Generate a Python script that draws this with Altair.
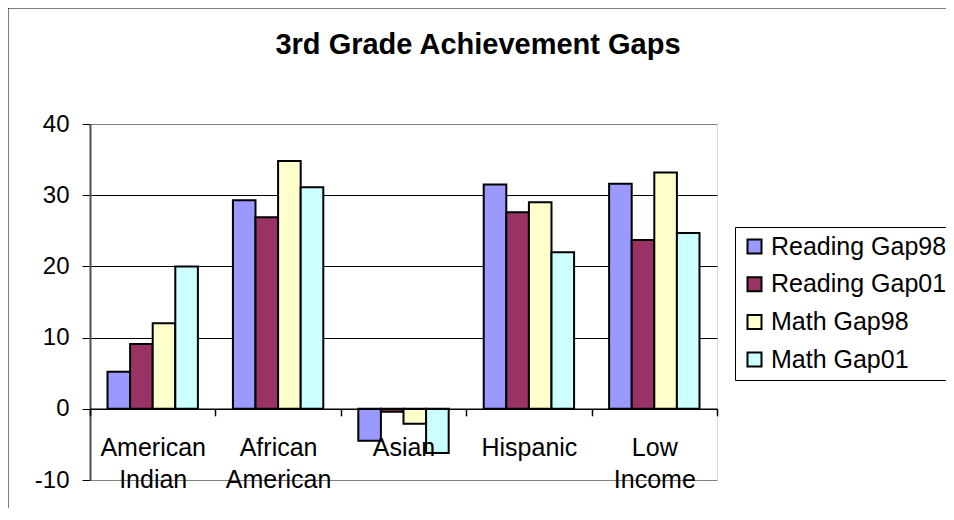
import altair as alt
import pandas as pd

categories = ["American Indian", "African American", "Asian", "Hispanic", "Low Income"]
series = ["Reading Gap98", "Reading Gap01", "Math Gap98", "Math Gap01"]
reading_gap98 = [5.2, 29.3, -4.5, 31.5, 31.6]
reading_gap01 = [9.1, 26.9, -0.4, 27.6, 23.7]
math_gap98 = [12.0, 34.8, -2.1, 29.0, 33.2]
math_gap01 = [20.0, 31.1, -6.2, 22.0, 24.7]
colors = ["#9999FF", "#993366", "#FFFFCC", "#CCFFFF"]
y_ticks = [-10, 0, 10, 20, 30, 40]

rows = []
for s, vals in zip(series, [reading_gap98, reading_gap01, math_gap98, math_gap01]):
    for c, v in zip(categories, vals):
        rows.append({"group": c, "series": s, "value": v})
df = pd.DataFrame(rows)

W, H = 627, 356
FONT = "Liberation Sans"

frame = alt.Chart(pd.DataFrame({"k": [0]})).mark_rect(
    fill="transparent", stroke="black", strokeWidth=1
).encode(
    x=alt.value(-82), x2=alt.value(W + 400),
    y=alt.value(-116), y2=alt.value(H + 200),
)

bars = alt.Chart(df).mark_bar(stroke="black", strokeWidth=2).encode(
    x=alt.X(
        "group:N", sort=categories,
        scale=alt.Scale(paddingInner=0, paddingOuter=0),
        axis=alt.Axis(
            title=None, offset=-H * 10 / 50, domainColor="black", domainWidth=1.5,
            tickColor="black", tickSize=7, tickWidth=1.5, tickBand="extent",
            labelExpr="split(datum.label, ' ')", labelFontSize=25, labelFont=FONT,
            labelColor="black", labelPadding=20, labelLineHeight=32, labelAngle=0,
            labelOverlap=False, labelLimit=300, zindex=1, grid=False,
        ),
    ),
    xOffset=alt.XOffset(
        "series:N", sort=series,
        scale=alt.Scale(paddingInner=0, paddingOuter=0.775),
    ),
    y=alt.Y(
        "value:Q",
        scale=alt.Scale(domain=[-10, 40], nice=False),
        axis=alt.Axis(
            values=y_ticks, title=None, labelExpr="'' + datum.value",
            labelFontSize=24, labelFont=FONT, labelColor="black", labelPadding=13,
            tickSize=8, tickColor="black", domainColor="#505050", domainWidth=2,
            gridColor=alt.condition("datum.value == 40 || datum.value == -10", alt.value("#808080"), alt.value("black")),
            gridWidth=1,
        ),
    ),
    color=alt.Color(
        "series:N", sort=series,
        scale=alt.Scale(domain=series, range=colors),
        legend=alt.Legend(
            title=None, orient="none", legendX=645, legendY=103,
            strokeColor="black", padding=7, fillColor="white",
            symbolType="square", symbolSize=196, symbolStrokeColor="black",
            symbolStrokeWidth=2, labelFont=FONT, labelFontSize=25, labelColor="black",
            rowPadding=11.7, labelOffset=4, labelLimit=300,
        ),
    ),
)

chart = alt.layer(frame, bars).properties(
    width=W, height=H,
    title=alt.TitleParams(
        "3rd Grade Achievement Gaps", font=FONT, fontSize=29, fontWeight="bold",
        color="black", anchor="middle", frame="group", dx=74.5, offset=0, dy=75,
        baseline="alphabetic",
    ),
    autosize=alt.AutoSizeParams(type="none"),
    padding={"left": 82, "top": 116, "right": 229, "bottom": 28},
).configure_view(stroke="#808080", strokeWidth=2).configure(background="white")

chart.save("out.html", embed_options={"renderer": "svg", "actions": False})
